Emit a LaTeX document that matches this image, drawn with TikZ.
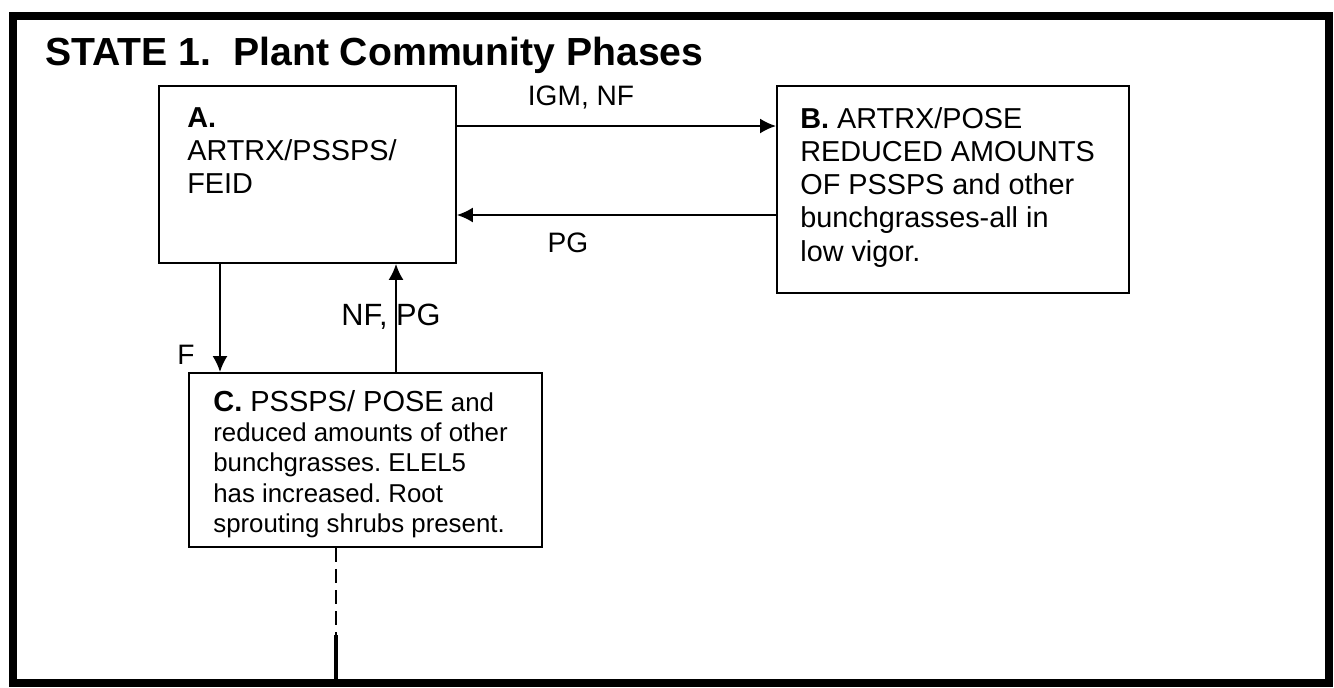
\documentclass[tikz,border=0pt]{standalone}
\usepackage{fontspec}
\setmainfont{Liberation Sans}
\usetikzlibrary{arrows.meta}
\frenchspacing

\begin{document}
\begin{tikzpicture}[x=0.02cm, y=-0.02cm,
    phase/.style={draw, line width=1.1pt, inner sep=0pt, anchor=north west},
    phasetext/.style={inner sep=0pt, anchor=north west, align=left, font=\fontsize{16.4}{18.9}\selectfont},
    trans/.style={line width=1.1pt, -{Latex[length=3.2mm, width=3mm]}},
    translabel/.style={inner sep=0pt, font=\fontsize{16}{18}\selectfont}]
    \useasboundingbox (0,0) rectangle (1334,687);
    % outer frame and title
    \draw[line width=4.5pt] (13,16) rectangle (1329,683);
    \node[anchor=base west, inner sep=0pt, font=\bfseries\fontsize{22.3}{25}\selectfont] (title) at (45,65) {STATE 1.\ \ Plant Community Phases};
    % phase boxes
    \node[phase, minimum width=5.94cm, minimum height=3.54cm] (A) at (158,85) {};
    \node[phase, minimum width=7.04cm, minimum height=4.14cm] (B) at (776,85) {};
    \node[phase, minimum width=7.06cm, minimum height=3.48cm] (C) at (188,372) {};
    \node[phasetext] (Atext) at (187,107) {\textbf{A.}\\ARTRX/PSSPS/\\FEID};
    \node[phasetext] (Btext) at (800,107) {\textbf{B.} ARTRX/POSE\\REDUCED AMOUNTS\\OF PSSPS and other\\bunchgrasses-all in\\low vigor.};
    \node[phasetext, font=\fontsize{14.7}{17.2}\selectfont] (Ctext) at (213,390) {{\fontsize{16.5}{17.2}\selectfont\textbf{C.} PSSPS/ POSE} and\\reduced amounts of other\\bunchgrasses. ELEL5\\has increased. Root\\sprouting shrubs present.};
    % helper coordinates
    \coordinate (r1) at (0,126);
    \coordinate (r2) at (0,215);
    \coordinate (c1) at (220,0);
    \coordinate (c2) at (396,0);
    \coordinate (cut) at (336,635);
    \coordinate (fb) at (336,683);
    % transitions
    \draw[trans] (A.east |- r1) -- (B.west |- r1);
    \draw[trans] (B.west |- r2) -- (A.east |- r2);
    \draw[trans] (A.south -| c1) -- (C.north -| c1);
    \draw[trans] (C.north -| c2) -- (A.south -| c2);
    \node[translabel] (igm) at (581,97) {IGM, NF};
    \node[translabel] (pg) at (568,243) {PG};
    \node[translabel] (f) at (186,355) {F};
    \node[translabel, font=\fontsize{17.5}{20}\selectfont] (nfpg) at (391,317) {NF, PG};
    % link to next state
    \draw[line width=1.1pt, dash pattern=on 8pt off 4pt] (C.south -| cut) -- (cut);
    \draw[line width=1.8pt] (cut) -- (fb);
\end{tikzpicture}
\end{document}
